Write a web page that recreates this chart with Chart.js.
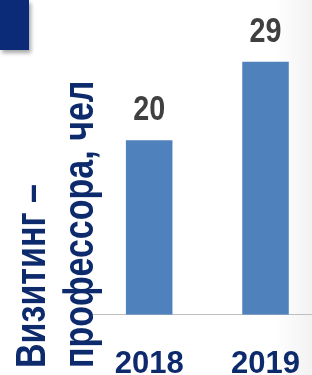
<!DOCTYPE html>
<html>
<head>
<meta charset="utf-8">
<script src="https://cdn.jsdelivr.net/npm/chart.js@4.4.0/dist/chart.umd.min.js"></script>
<style>
    html, body { margin: 0; padding: 0; }
    body {
        width: 312px; height: 375px; overflow: hidden; position: relative;
        background: linear-gradient(to right, #ffffff 0%, #ffffff 88%, #f2f2f2 100%);
    }
    #box {
        position: absolute; left: 0; top: 0; width: 29px; height: 50px;
        background: #0b2a78; box-shadow: 2px 3px 4px rgba(0,0,0,0.35);
    }
    #wrap { position: absolute; left: 0; top: 0; width: 331px; height: 414px; }
    #yTitle {
        position: absolute; left: 7px; top: 368px; width: 380px;
        transform-origin: top left; transform: rotate(-90deg) scaleX(0.81);
        font-family: 'Liberation Sans', Arial, sans-serif;
        font-weight: bold; font-size: 42px; line-height: 48px;
        color: #0d2a6c; white-space: nowrap;
    }
</style>
</head>
<body>
<div id="box"></div>
<div id="wrap"><canvas id="visitChart"></canvas></div>
<div id="yTitle">Визитинг –<br>профессора, чел</div>
<script>
const years = ['2018', '2019'];
const visitors = [20, 29];
const yTicks = [0, 35];

// value labels above the bars (narrowed like Arial Narrow)
const valueLabels = {
    id: 'valueLabels',
    afterDatasetsDraw(chart) {
        const ctx = chart.ctx;
        const meta = chart.getDatasetMeta(0);
        meta.data.forEach((bar, i) => {
            ctx.save();
            ctx.translate(bar.x, bar.y - 20);
            ctx.scale(0.82, 1);
            ctx.font = "bold 35px 'Liberation Sans', Arial, sans-serif";
            ctx.fillStyle = '#404040';
            ctx.textAlign = 'center';
            ctx.textBaseline = 'alphabetic';
            ctx.fillText(visitors[i], 0, 0);
            ctx.restore();
        });
    }
};

new Chart(document.getElementById('visitChart'), {
    type: 'bar',
    data: {
        labels: years,
        datasets: [{
            data: visitors,
            backgroundColor: '#4f81bd',
            barPercentage: 0.4,
            categoryPercentage: 1
        }]
    },
    options: {
        responsive: true,
        maintainAspectRatio: false,
        animation: false,
        layout: { padding: { left: 91, top: 9.5, right: 0, bottom: 0 } },
        plugins: {
            legend: { display: false },
            tooltip: { enabled: false }
        },
        scales: {
            x: {
                grid: { display: false, drawTicks: false },
                border: { display: true, color: '#bfbfbf', width: 1 },
                ticks: {
                    color: '#0d2a6c',
                    padding: 31,
                    font: { family: "'Liberation Sans', Arial, sans-serif", size: 31, weight: 'bold' }
                }
            },
            y: {
                display: false,
                min: yTicks[0],
                max: yTicks[1]
            }
        }
    },
    plugins: [valueLabels]
});
</script>
</body>
</html>
